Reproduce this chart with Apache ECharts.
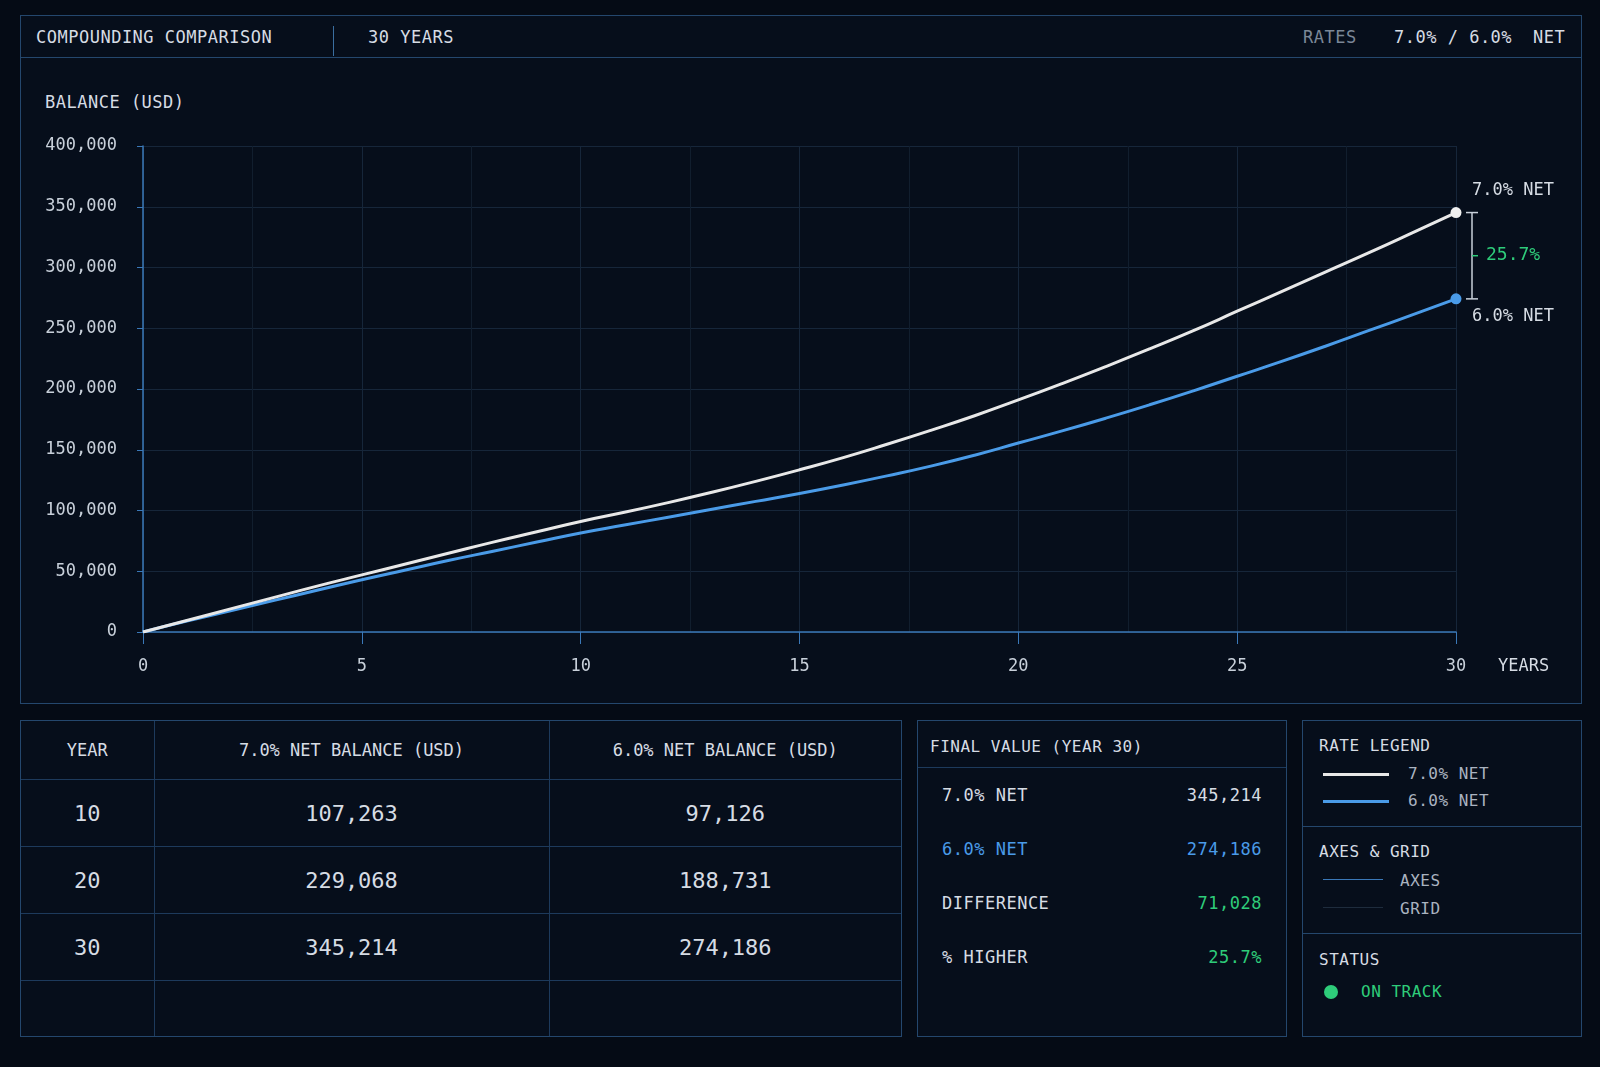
<!DOCTYPE html><html><head><meta charset="utf-8">
<script src="https://cdn.jsdelivr.net/npm/echarts@6/dist/echarts.min.js"></script>
<style>
body{margin:0;background:#050b15;font-family:"DejaVu Sans Mono","Liberation Mono",monospace;color:#d6dce4;width:1600px;height:1067px;overflow:hidden;position:relative}
.box{position:absolute;border:1.5px solid #24476d;box-sizing:border-box;background:#060e1b}
.t{position:absolute;white-space:nowrap;letter-spacing:0.5px}
#chart{position:absolute;left:0;top:0;width:1600px;height:1067px}
table{border-collapse:collapse;width:100%;table-layout:fixed}
td{border:1px solid #1d3a5c;text-align:center;font-size:22px;height:66px;padding:0}
tr.h td{font-size:17px;height:58px}
tr:first-child td{border-top:none}
td:first-child{border-left:none}
td:last-child{border-right:none}
</style></head><body>
<div class="box" style="left:20px;top:15px;width:1562px;height:689px"></div>
<div style="position:absolute;left:20px;top:57px;width:1562px;border-top:1.5px solid #24476d"></div>
<div class="t" style="left:36px;top:27px;font-size:17px">COMPOUNDING COMPARISON</div>
<div style="position:absolute;left:333px;top:26px;height:30px;border-left:1.5px solid #3a6ea0"></div>
<div class="t" style="left:368px;top:27px;font-size:17px">30 YEARS</div>
<div class="t" style="left:1303px;top:27px;font-size:17px;color:#7b8797">RATES</div>
<div class="t" style="left:1394px;top:27px;font-size:17px">7.0% / 6.0%</div>
<div class="t" style="left:1533px;top:27px;font-size:17px">NET</div>
<div class="t" style="left:45px;top:92px;font-size:17px">BALANCE (USD)</div>

<div class="box" style="left:20px;top:720px;width:882px;height:317px;overflow:hidden">
<table id="tbl"><colgroup><col style="width:133px"><col style="width:395px"><col></colgroup></table></div>

<div class="box" style="left:917px;top:720px;width:370px;height:317px">
<div class="t" style="left:12px;top:16px;font-size:16px">FINAL VALUE (YEAR 30)</div>
<div style="position:absolute;left:0;right:0;top:46px;border-top:1px solid #1d3a5c"></div>
<div id="fv"></div></div>

<div class="box" style="left:1302px;top:720px;width:280px;height:317px">
<div class="t" style="left:16px;top:15px;font-size:16px">RATE LEGEND</div>
<div style="position:absolute;left:20px;top:52px;width:66px;border-top:3px solid #e8e8e8"></div>
<div class="t" style="left:105px;top:43px;font-size:16px;color:#aab3c0">7.0% NET</div>
<div style="position:absolute;left:20px;top:79px;width:66px;border-top:3px solid #4a9be8"></div>
<div class="t" style="left:105px;top:70px;font-size:16px;color:#aab3c0">6.0% NET</div>
<div style="position:absolute;left:0;right:0;top:105px;border-top:1px solid #24476d"></div>
<div class="t" style="left:16px;top:121px;font-size:16px">AXES &amp; GRID</div>
<div style="position:absolute;left:20px;top:158px;width:60px;border-top:1.5px solid #3a78b8"></div>
<div class="t" style="left:97px;top:150px;font-size:16px;color:#aab3c0">AXES</div>
<div style="position:absolute;left:20px;top:186px;width:60px;border-top:1.5px solid #1e2c3d"></div>
<div class="t" style="left:97px;top:178px;font-size:16px;color:#aab3c0">GRID</div>
<div style="position:absolute;left:0;right:0;top:212px;border-top:1px solid #24476d"></div>
<div class="t" style="left:16px;top:229px;font-size:16px">STATUS</div>
<div style="position:absolute;left:21px;top:264px;width:14px;height:14px;border-radius:7px;background:#2ecc7a"></div>
<div class="t" style="left:58px;top:261px;font-size:16px;color:#2ecc7a">ON TRACK</div>
</div>
<div id="chart"></div>
<script>
const years=[0,1,2,3,4,5,6,7,8,9,10,11,12,13,14,15,16,17,18,19,20,21,22,23,24,25,26,27,28,29,30];
const net7=[0,9500,19000,28500,38000,47000,56000,65000,74000,82500,91000,98500,106500,115000,124000,133500,143500,154500,166000,178000,191000,204500,218500,233000,248000,264000,280000,296000,312000,328500,345214];
const net6=[0,9000,17500,26000,34500,43000,51000,59000,66500,74000,81500,88000,94500,101000,107500,114000,121000,128500,136500,145500,155500,165500,176000,187000,198500,210500,222500,235000,248000,261000,274186];
const tableYears=['10','20','30'];
const table7=['107,263','229,068','345,214'];
const table6=['97,126','188,731','274,186'];
const fvLabels=['7.0% NET','6.0% NET','DIFFERENCE','% HIGHER'];
const fvValues=['345,214','274,186','71,028','25.7%'];
const fvColors=['#d6dce4','#4a9be8','#2ecc7a','#2ecc7a'];

let h='<tr class="h"><td>YEAR</td><td>7.0% NET BALANCE (USD)</td><td>6.0% NET BALANCE (USD)</td></tr>';
tableYears.forEach((y,i)=>{h+=`<tr><td>${y}</td><td>${table7[i]}</td><td>${table6[i]}</td></tr>`});
h+='<tr><td style="height:70px"></td><td></td><td></td></tr>';
document.getElementById('tbl').insertAdjacentHTML('beforeend',h);
let f='';fvLabels.forEach((l,i)=>{const c=i==1?fvColors[1]:'#d6dce4';
f+=`<div class="t" style="left:24px;top:${64+i*54}px;font-size:17px;color:${c}">${l}</div><div class="t" style="right:24px;top:${64+i*54}px;font-size:17px;color:${fvColors[i]}">${fvValues[i]}</div>`});
document.getElementById('fv').innerHTML=f;

const ch=echarts.init(document.getElementById('chart'));
const mono='DejaVu Sans Mono';
ch.setOption({animation:false,
grid:{left:143,right:144,top:146,bottom:435},
xAxis:{type:'value',min:0,max:30,interval:5,
 axisLine:{lineStyle:{color:'#3a78b8',width:1.5}},axisTick:{length:12,lineStyle:{color:'#3a78b8'}},
 axisLabel:{color:'#c8d0da',fontSize:17,fontFamily:mono,margin:26},
 splitLine:{show:true,lineStyle:{color:'#16263a'}},minorTick:{show:false,splitNumber:2},minorSplitLine:{show:true,lineStyle:{color:'#111e2e'}}},
yAxis:{type:'value',min:0,max:400000,interval:50000,
 axisLine:{show:true,lineStyle:{color:'#3a78b8',width:1.5}},axisTick:{show:true,length:6,lineStyle:{color:'#3a78b8'}},
 axisLabel:{color:'#c8d0da',fontSize:17,fontFamily:mono,margin:26,formatter:v=>v.toLocaleString('en-US')},
 splitLine:{lineStyle:{color:'#16263a'}}},
series:[
 {type:'line',data:years.map((y,i)=>[y,net7[i]]),smooth:true,showSymbol:false,lineStyle:{color:'#e8e8e8',width:3},z:3,
  markPoint:{symbol:'circle',symbolSize:11,itemStyle:{color:'#f0f0f0'},label:{show:false},data:[{coord:[30,net7[30]]}]}},
 {type:'line',data:years.map((y,i)=>[y,net6[i]]),smooth:true,showSymbol:false,lineStyle:{color:'#4a9be8',width:3},z:2,
  markPoint:{symbol:'circle',symbolSize:11,itemStyle:{color:'#4a9be8'},label:{show:false},data:[{coord:[30,net6[30]]}]}}
]});
const p7=ch.convertToPixel({gridIndex:0},[30,net7[30]]);
const p6=ch.convertToPixel({gridIndex:0},[30,net6[30]]);
const x0=p7[0]+16;
ch.setOption({graphic:[
 {type:'line',shape:{x1:x0,y1:p7[1],x2:x0,y2:p6[1]},style:{stroke:'#c8d0da',lineWidth:1.5}},
 {type:'line',shape:{x1:x0-6,y1:p7[1],x2:x0+6,y2:p7[1]},style:{stroke:'#c8d0da',lineWidth:1.5}},
 {type:'line',shape:{x1:x0-6,y1:p6[1],x2:x0+6,y2:p6[1]},style:{stroke:'#c8d0da',lineWidth:1.5}},
 {type:'line',shape:{x1:x0,y1:(p7[1]+p6[1])/2,x2:x0+6,y2:(p7[1]+p6[1])/2},style:{stroke:'#2ecc7a',lineWidth:1.5}},
 {type:'text',x:x0+14,y:(p7[1]+p6[1])/2,style:{text:fvValues[3],fill:'#2ecc7a',font:'18px '+mono,verticalAlign:'middle'}},
 {type:'text',x:p7[0]+16,y:p7[1]-22,style:{text:'7.0% NET',fill:'#d6dce4',font:'17px '+mono,verticalAlign:'middle'}},
 {type:'text',x:p6[0]+16,y:p6[1]+18,style:{text:'6.0% NET',fill:'#d6dce4',font:'17px '+mono,verticalAlign:'middle'}},
 {type:'text',x:p6[0]+42,y:667,style:{text:'YEARS',fill:'#d6dce4',font:'17px '+mono,verticalAlign:'middle'}}
]});
</script></body></html>
